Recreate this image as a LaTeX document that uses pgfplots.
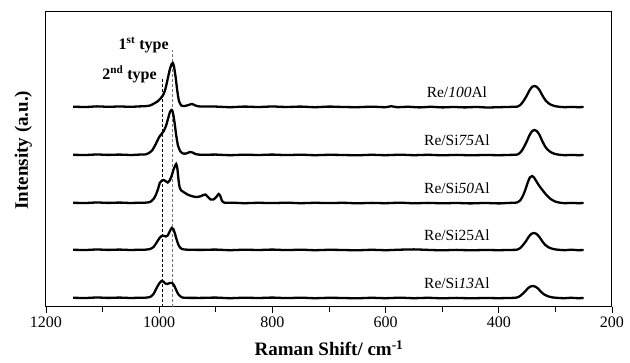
\documentclass[border=0pt]{standalone}
\usepackage{fontspec}
\setmainfont{Liberation Serif}
\usepackage{pgfplots}
\pgfplotsset{compat=1.18}
\begin{document}
\begin{tikzpicture}
\begin{axis}[
 scale only axis, width=566pt, height=295pt,
 xmin=200, xmax=1200, ymin=0, ymax=295,
 x dir=reverse,
 xtick={200,400,...,1200}, minor xtick={300,500,...,1100},
 xtick pos=bottom, ytick=\empty,
 tick align=outside,
 major tick length=6pt, minor tick length=5pt,
 every tick/.style={black, line width=0.8pt},
 axis line style={line width=1pt},
 /pgf/number format/assume math mode=true,
 /pgf/number format/1000 sep={},
 ticklabel style={font=\fontsize{16}{18}\selectfont},
 xlabel={\textbf{Raman Shift/ cm\textsuperscript{-1}}},
 ylabel={\textbf{Intensity (a.u.)}},
 every axis x label/.style={at={(axis description cs:0.5,-0.14)}, anchor=center, font=\fontsize{19}{22}\selectfont},
 every axis y label/.style={at={(axis description cs:-0.04,0.532)}, anchor=center, rotate=90, font=\fontsize{19}{22}\selectfont},
 clip=false,
 spec/.style={line width=2.3pt, black, no markers, smooth, tension=0.4},
]
% dashed guide lines
\addplot[line width=0.9pt, black!55, dash pattern=on 3pt off 2pt, sharp plot, no markers] coordinates {(976,0) (976,257)};
\addplot[line width=0.9pt, black, dash pattern=on 3pt off 2pt, sharp plot, no markers] coordinates {(995,0) (995,229)};
% Re/100Al
\addplot[spec] coordinates {(1152,200.3) (1130,200) (1110,200.6) (1090,200.2) (1070,200.5) (1050,200.2) (1035,200.6) (1025,200.8) (1016,201.5) (1009,203.5) (1002,206) (997,209) (993,212) (989,218) (985,228) (981,238) (978,243) (976,244) (974,241) (971,230) (968,216) (965,206) (961,201.5) (955,201) (948,202) (942,203) (936,201.5) (928,200.5) (900,200.4) (875,199.8) (850,200.4) (825,200) (800,200.5) (775,200) (750,200.4) (725,199.8) (700,200.4) (675,200) (650,199.8) (625,200.3) (600,199.8) (590,200.8) (580,199.8) (560,200.2) (540,199.6) (520,200.2) (500,199.6) (480,200) (460,199.6) (440,200) (420,199.5) (400,199.8) (385,200) (375,200.2) (367,200.4) (361,202.5) (356,206.3) (351,210.9) (346,216.4) (341,220.2) (337,221) (333,220.2) (328,216.8) (323,211.6) (317,206.3) (310,202.9) (302,201.05) (293,200.2) (283,199.8) (272,200.1) (260,199.8) (250,200)};
% Re/Si75Al
\addplot[spec] coordinates {(1152,152.2) (1130,152) (1110,152.5) (1090,152.1) (1070,152.4) (1050,152) (1035,152.4) (1025,152.5) (1018,154) (1012,157) (1006,163) (1000,170) (996,173) (992,176) (988,181) (984,189) (981,195) (978,197) (976,195) (973,185) (970,172) (967,162) (963,156) (958,153.5) (952,153.5) (946,155) (941,154.5) (935,152.8) (925,152.2) (900,152.4) (875,151.8) (850,152.3) (825,152) (800,152.4) (775,151.9) (750,152.3) (725,151.8) (700,152.2) (675,152) (650,151.7) (625,152.2) (600,151.8) (575,152.3) (550,151.8) (525,152.2) (500,151.7) (475,152.1) (450,151.7) (425,152) (400,151.8) (385,152) (375,152.2) (367,152.5) (361,155) (356,159.5) (351,165) (346,171.5) (341,176) (337,177) (333,176) (328,172) (323,165.75) (317,159.5) (310,155.5) (302,153.25) (293,152.25) (283,151.8) (272,152.1) (260,151.8) (250,152)};
% Re/Si50Al
\addplot[spec] coordinates {(1152,104.2) (1130,104) (1110,104.5) (1090,104.1) (1070,104.4) (1050,104) (1035,104.3) (1025,104.3) (1016,105) (1010,108) (1006,112) (1002,118) (999,124) (995,126.5) (992,127) (989,126) (985,124.5) (982,126) (978,131) (975,137) (972,141) (970,143) (968,139) (966,128) (964,120) (961,116.5) (957,115) (950,112.5) (943,111) (935,110) (928,110.5) (922,112) (918,112.5) (914,110) (909,107.5) (904,107.5) (899,110) (895,113) (892,111) (889,106) (885,104.3) (870,104.3) (850,103.8) (825,104.2) (800,103.9) (775,104.3) (750,103.8) (725,104.2) (700,103.9) (675,104.2) (650,103.7) (625,104.1) (600,103.8) (575,104.3) (550,103.7) (525,104.1) (500,103.7) (475,104) (450,103.6) (425,104) (400,103.6) (385,104) (375,104.2) (368,104.5) (362,106.7) (357,111.6) (353,117.5) (349,124.25) (345,129.65) (341,131) (338,129.65) (334,126.1) (329,121.55) (323,117) (316,112.1) (309,108.3) (301,105.6) (292,104.3) (283,103.8) (272,104.1) (260,103.8) (250,104)};
% Re/Si25Al
\addplot[spec] coordinates {(1152,57.2) (1130,57) (1110,57.5) (1090,57.1) (1070,57.4) (1050,57) (1035,57.3) (1025,57.3) (1016,58) (1010,60) (1005,64) (1000,68.5) (996,71) (992,71.2) (988,70.5) (985,71.5) (981,76) (978,79) (975,78) (972,73) (969,67) (965,61) (960,58) (950,57.3) (925,57.1) (900,57.4) (875,56.8) (850,57.3) (825,57) (800,57.4) (775,56.9) (750,57.3) (725,56.8) (700,57.2) (675,57) (650,56.7) (625,57.2) (600,56.8) (575,57.3) (550,57.6) (525,57.1) (500,56.7) (475,57.1) (450,56.7) (425,57) (400,56.8) (385,57) (375,57.1) (368,57.3) (362,59) (357,62.1) (352,65.8) (347,70.3) (342,73.3) (338,74) (334,73.3) (329,70.6) (324,66.4) (318,62.1) (311,59.4) (303,57.85) (294,57.2) (283,56.8) (272,57.3) (260,56.8) (250,57)};
% Re/Si13Al
\addplot[spec] coordinates {(1152,9.2) (1130,9) (1110,9.5) (1090,9.1) (1070,9.4) (1050,9) (1035,9.3) (1025,9.3) (1016,10) (1010,13) (1005,18.5) (1000,23.5) (996,26) (993,25.5) (989,23.5) (986,23) (981,24) (977,24) (974,22) (970,17) (966,12.5) (961,10) (955,9.2) (925,9.1) (900,9.4) (875,8.8) (850,9.3) (825,9) (800,9.4) (775,8.9) (750,9.3) (725,8.8) (700,9.2) (675,9) (650,8.7) (625,9.2) (600,8.8) (575,9.3) (550,8.8) (525,9.2) (500,8.7) (475,9.1) (450,8.7) (425,9) (400,8.8) (385,9) (376,9.1) (370,9.25) (364,10.4) (359,12.6) (354,15.2) (349,18.4) (344,20.5) (340,21) (336,20.5) (331,18.6) (326,15.6) (320,12.6) (313,10.7) (305,9.6) (296,9.1) (285,8.8) (272,9.2) (260,8.8) (250,9)};
% labels
\node[font=\fontsize{15.5}{18}\selectfont] at (axis cs:474,215) {Re/\textit{100}Al};
\node[font=\fontsize{15.5}{18}\selectfont] at (axis cs:474,167) {Re/Si\textit{75}Al};
\node[font=\fontsize{15.5}{18}\selectfont] at (axis cs:474,119) {Re/Si\textit{50}Al};
\node[font=\fontsize{15.5}{18}\selectfont] at (axis cs:474,72) {Re/Si25Al};
\node[font=\fontsize{15.5}{18}\selectfont] at (axis cs:474,24) {Re/Si\textit{13}Al};
\node[font=\bfseries\fontsize{16}{18}\selectfont, anchor=east, inner sep=0pt] at (axis cs:983,262) {1\textsuperscript{st} type};
\node[font=\bfseries\fontsize{16}{18}\selectfont, anchor=east, inner sep=0pt] at (axis cs:1004,233) {2\textsuperscript{nd} type};
\end{axis}
\path (current axis.south west) ++(-46pt,-56pt) coordinate (bbA);
\path (current axis.north east) ++(18pt,12pt) coordinate (bbB);
\pgfresetboundingbox
\path[use as bounding box] (bbA) rectangle (bbB);
\end{tikzpicture}
\end{document}
